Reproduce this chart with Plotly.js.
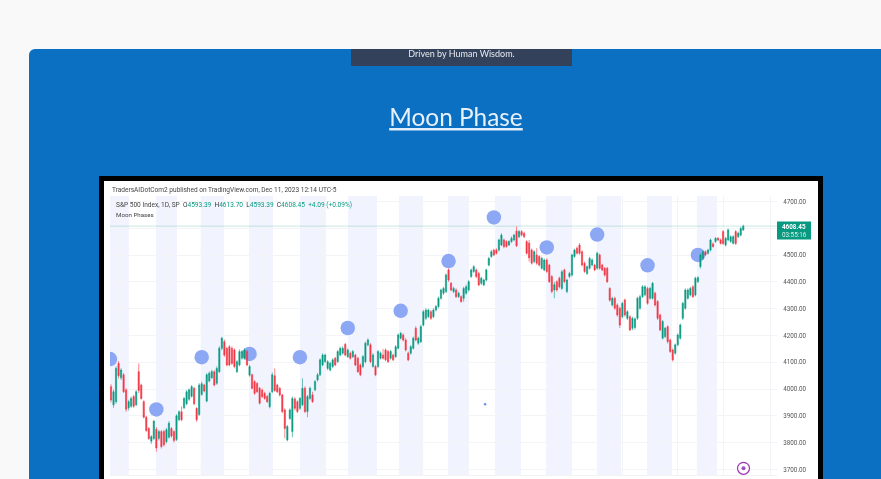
<!DOCTYPE html>
<html><head><meta charset="utf-8">
<script src="https://cdn.plot.ly/plotly-3.0.1.min.js"></script>
<style>
html,body{margin:0;padding:0;width:881px;height:479px;overflow:hidden;background:#f9f9f9}
#page{position:absolute;left:0;top:0;width:881px;height:479px;overflow:hidden;filter:blur(0.6px)}
#card{position:absolute;left:29px;top:49px;width:880px;height:460px;background:#0b6fc2;border-radius:6px 0 0 0}
#banner{position:absolute;left:351px;top:49px;width:221px;height:17px;background:#33415a;color:#e8ebf0;font:9px Lato,sans-serif;text-align:center;line-height:9px}
#frame{position:absolute;left:99px;top:176px;width:714px;height:320px;background:#fff;border:5px solid #000}
#chart{position:absolute;left:0;top:0;width:881px;height:479px}
</style></head>
<body><div id="page"><div id="card"></div><div id="banner">Driven by Human Wisdom.</div><div id="frame"></div><div id="chart"></div></div>
<script>
const opens=[4009,3941,3953,4096,4042,4053,3997,3930,3936,3972,
3941,4065,4015,3953,3895,3853,3805,3815,3850,3816,
3841,3841,3803,3820,3853,3841,3812,3885,3915,3930,
3945,3962,3973,4003,3928,3905,3980,4015,3955,4030,
4042,4065,4022,4065,4152,4177,4152,4158,4152,4146,
4065,4090,4115,4115,4140,4052,4053,4028,4021,4003,
3996,3984,3972,3934,3990,4050,4015,4003,3978,3922,
3810,3890,3841,3963,3953,3928,3941,4003,3916,3965,
3978,3997,4034,4053,4090,4102,4077,4071,4084,4115,
4102,4127,4134,4167,4121,4134,4121,4127,4115,4090,
4084,4102,4165,4165,4084,4084,4084,4115,4127,4146,
4140,4115,4127,4121,4152,4190,4202,4183,4134,4134,
4152,4227,4171,4177,4239,4264,4270,4289,4270,4295,
4308,4339,4358,4364,4445,4395,4364,4370,4345,4345,
4339,4358,4370,4420,4439,4445,4432,4395,4389,4407,
4463,4495,4519,4519,4519,4538,4557,4551,4538,4551,
4557,4590,4569,4588,4582,4551,4545,4519,4476,4501,
4495,4451,4445,4482,4463,4420,4370,4401,4414,4376,
4445,4364,4420,4426,4495,4526,4538,4513,4470,4432,
4451,4463,4463,4451,4501,4463,4451,4451,4376,4314,
4339,4314,4302,4270,4333,4264,4270,4227,4230,4264,
4302,4345,4352,4376,4339,4339,4358,4327,4277,4190,
4196,4233,4183,4146,4134,4165,4190,4264,4302,4339,
4351,4382,4351,4401,4457,4488,4513,4507,4519,4542,
4551,4563,4557,4588,4538,4557,4551,4544,4588,4569,
4575,4593.39];
const closes=[3959,3990,4077,4050,4071,3990,3925,3953,3965,3936,
3990,3995,3965,3895,3845,3815,3822,3880,3780,3841,
3785,3792,3848,3872,3825,3808,3900,3915,3885,3965,
3990,3997,4009,3945,3885,4015,4020,3993,4053,4059,
4065,4015,4077,4152,4190,4127,4090,4090,4096,4084,
4102,4140,4140,4146,4090,4084,4003,3984,3990,3947,
3972,3965,3953,3984,4053,3995,3990,3978,3916,3853,
3860,3922,3965,3928,3916,3965,4003,3916,3972,4003,
3953,4028,4053,4109,4127,4127,4102,4096,4109,4090,
4140,4152,4152,4127,4146,4115,4140,4090,4065,4053,
4121,4171,4183,4102,4127,4053,4140,4134,4115,4109,
4102,4140,4109,4158,4202,4208,4183,4146,4109,4158,
4190,4183,4190,4233,4289,4295,4295,4264,4295,4308,
4339,4370,4376,4426,4407,4370,4376,4345,4358,4327,
4376,4382,4401,4445,4457,4420,4389,4414,4407,4445,
4488,4513,4501,4507,4557,4575,4532,4532,4551,4563,
4575,4535,4588,4575,4569,4507,4490,4470,4513,4470,
4463,4488,4482,4439,4401,4364,4390,4370,4382,4438,
4401,4407,4432,4501,4519,4507,4507,4463,4439,4457,
4488,4482,4445,4507,4451,4445,4426,4401,4332,4339,
4302,4277,4239,4320,4277,4289,4221,4264,4262,4339,
4345,4382,4382,4320,4376,4395,4314,4264,4221,4252,
4227,4177,4140,4109,4165,4202,4239,4320,4370,4370,
4376,4345,4414,4416,4501,4513,4501,4519,4557,4532,
4563,4557,4544,4544,4563,4594,4569,4569,4544,4582,
4600,4608.45];
const highs=[4018,3998,4085,4105,4078,4060,4003,3960,3972,3978,
3996,4096,4020,3958,3900,3858,3828,3885,3858,3848,
3847,3848,3855,3880,3858,3846,3906,3921,3935,3970,
3996,4002,4015,4008,3932,4022,4028,4020,4060,4066,
4072,4070,4085,4160,4195,4185,4158,4165,4160,4152,
4108,4148,4146,4152,4146,4090,4058,4033,4026,4008,
4002,3990,3978,3990,4062,4077,4020,4008,3982,3928,
3866,3928,3972,3970,3958,3970,4040,4010,3978,4009,
3990,4034,4060,4115,4134,4132,4108,4102,4115,4120,
4146,4158,4160,4172,4152,4140,4146,4132,4120,4096,
4127,4177,4190,4172,4134,4090,4146,4140,4150,4152,
4146,4146,4132,4164,4208,4214,4208,4190,4140,4164,
4196,4235,4196,4240,4296,4302,4300,4295,4302,4314,
4345,4375,4382,4432,4451,4400,4382,4376,4364,4350,
4382,4390,4407,4450,4463,4450,4438,4420,4412,4450,
4494,4520,4524,4526,4562,4582,4562,4556,4556,4570,
4580,4607,4594,4594,4588,4556,4557,4525,4518,4526,
4500,4494,4488,4488,4468,4426,4401,4406,4420,4445,
4450,4412,4438,4506,4524,4532,4545,4518,4476,4462,
4494,4488,4468,4513,4506,4468,4456,4456,4380,4345,
4345,4320,4308,4326,4338,4295,4276,4270,4268,4345,
4352,4388,4388,4382,4382,4400,4364,4332,4282,4258,
4232,4238,4188,4152,4170,4208,4245,4326,4376,4376,
4382,4388,4420,4422,4506,4518,4518,4524,4562,4548,
4568,4568,4562,4594,4568,4600,4574,4575,4594,4588,
4606,4613.7];
const lows=[3950,3930,3945,4040,4034,3985,3915,3920,3930,3930,
3936,3985,3960,3890,3840,3810,3795,3810,3766,3808,
3778,3785,3797,3815,3818,3800,3806,3880,3880,3925,
3940,3956,3968,3940,3878,3900,3975,3988,3950,4025,
4038,4010,4016,4060,4145,4120,4085,4085,4090,4078,
4060,4085,4110,4110,4085,4046,3998,3978,3985,3942,
3966,3960,3948,3928,3985,3990,3985,3972,3910,3816,
3805,3885,3820,3920,3910,3922,3936,3910,3895,3960,
3948,3992,4028,4048,4085,4098,4070,4066,4078,4085,
4098,4122,4128,4122,4116,4110,4116,4085,4060,4048,
4078,4096,4160,4096,4080,4048,4078,4110,4110,4104,
4098,4110,4104,4116,4148,4185,4178,4140,4104,4128,
4148,4178,4165,4172,4234,4258,4265,4258,4265,4290,
4302,4334,4352,4358,4400,4365,4358,4340,4340,4322,
4326,4352,4364,4415,4434,4414,4384,4388,4384,4402,
4458,4490,4496,4502,4514,4534,4526,4528,4534,4546,
4552,4530,4564,4570,4564,4502,4476,4465,4470,4464,
4458,4446,4440,4434,4396,4358,4339,4364,4376,4370,
4395,4358,4414,4420,4490,4502,4502,4458,4434,4426,
4446,4458,4440,4446,4446,4440,4420,4396,4326,4308,
4296,4270,4228,4264,4270,4258,4216,4220,4222,4258,
4296,4340,4346,4315,4334,4334,4308,4258,4216,4185,
4190,4170,4135,4103,4128,4160,4185,4258,4296,4334,
4346,4340,4346,4396,4450,4482,4496,4502,4514,4528,
4546,4552,4540,4538,4532,4552,4546,4540,4538,4564,
4570,4593.39];
const barIndex=closes.map((_,i)=>i);

const moonBars=[-0.4,18,36,55,75,94,115,134,152,173,193,213,233];
const moonPrices=[4112,3924,4119,4131,4119,4228,4292,4478,4641,4529,4577,4462,4501];
const strayBar=[148.5];
const strayPrice=[3943];
const bandStart=[-0.4,17.9,35.6,54.8,75,94.1,114.3,133.8,152.4,172.7,192.9,212.8,232.6];
const bandEnd=[7.1,26.2,44.9,64.3,85.4,105.6,123.9,142.1,162.8,183,202.5,222.7,240.6];
const monthBars=[3,23,43,61,83,101,123,142,162,183,203,225,243,262];
const priceTicks=[3700,3800,3900,4000,4100,4200,4300,4400,4500,4600,4700];
const lastClose=4608.45;

const GREEN='#089981',RED='#F23645',MOON='#8ca8f5';
const L=110,R=777,T=196,B=475;
const fx=p=>(p-L)/(R-L), fy=p=>(B-p)/(B-T);
const xRange=[-0.4,264.4], yRange=[3679,4721];

const bandShapes=bandStart.map((s,i)=>({type:'rect',xref:'x',yref:'paper',x0:s,x1:bandEnd[i],y0:0,y1:1,layer:'below',line:{width:0},fillcolor:'#f1f4fe'}));
const shapes=bandShapes.concat([
 {type:'line',xref:'paper',yref:'y',x0:0,x1:1,y0:lastClose,y1:lastClose,line:{color:'rgba(8,153,129,0.22)',width:1}},
 {type:'rect',xref:'paper',yref:'paper',x0:fx(777),x1:fx(811),y0:fy(239.5),y1:fy(221.5),line:{width:0},fillcolor:GREEN},
 {type:'circle',xref:'paper',yref:'paper',x0:fx(737.5),x1:fx(749.5),y0:fy(474.3),y1:fy(462.3),line:{color:'#9c36b5',width:1.2},fillcolor:'#fff'},
 {type:'circle',xref:'paper',yref:'paper',x0:fx(741.5),x1:fx(745.5),y0:fy(470.3),y1:fy(466.3),line:{width:0},fillcolor:'#a34cc0'}
]);
const note=(px,py,text,size,color,extra)=>Object.assign({xref:'paper',yref:'paper',x:fx(px),y:fy(py),text:text,showarrow:false,xanchor:'left',yanchor:'middle',borderpad:0,font:{family:'Roboto, sans-serif',size:size,color:color}},extra||{});
const sp=(c,t)=>`<span style="color:${c}">${t}</span>`;
const annotations=[
 note(111,190,'TradersAIDotCom2 published on TradingView.com, Dec 11, 2023 12:14 UTC-5',6.55,'#444'),
 note(115,205,'S&P 500 Index, 1D, SP  '+sp('#333','O')+sp(GREEN,'4593.39')+sp('#333','  H')+sp(GREEN,'4613.70')+sp('#333','  L')+sp(GREEN,'4593.39')+sp('#333','  C')+sp(GREEN,'4608.45  +4.09 (+0.09%)'),6.55,'#444'),
 note(115,214.5,'Moon Phases',6.2,'#444'),
 note(794,226.5,'<b>4608.45</b>',6.3,'#fff',{xanchor:'center'}),
 note(794,234.5,'03:55:16',6.3,'#d8f0ea',{xanchor:'center'})
];

const traces=[
 {type:'scatter',mode:'markers',x:moonBars,y:moonPrices,xaxis:'x',yaxis:'y',marker:{size:14.5,color:MOON},hoverinfo:'skip',showlegend:false},
 {type:'scatter',mode:'markers',x:strayBar,y:strayPrice,xaxis:'x',yaxis:'y',marker:{size:2.5,color:'#6f8ff0'},hoverinfo:'skip',showlegend:false},
 {type:'candlestick',x:barIndex,open:opens,high:highs,low:lows,close:closes,xaxis:'x2',yaxis:'y2',whiskerwidth:0,
  increasing:{line:{color:GREEN,width:0.6},fillcolor:GREEN},decreasing:{line:{color:RED,width:0.6},fillcolor:RED},showlegend:false,hoverinfo:'skip'}
];
const layout={
 width:881,height:479,autosize:false,showlegend:false,
 margin:{l:L,r:881-R,t:T,b:479-B,pad:0},
 paper_bgcolor:'rgba(0,0,0,0)',plot_bgcolor:'rgba(0,0,0,0)',
 title:{text:'<u>Moon Phase</u>',x:457/881,xref:'paper',xanchor:'center',y:1-117.5/479,yref:'container',yanchor:'middle',font:{family:'Lato, sans-serif',size:24.4,color:'#e6f1fb'}},
 xaxis:{type:'linear',range:xRange,tickmode:'array',tickvals:monthBars,showticklabels:false,showgrid:true,gridcolor:'#f3f4f7',gridwidth:1,zeroline:false,ticks:'',showline:true,linecolor:'#f3f3f3',fixedrange:true},
 yaxis:{type:'linear',range:yRange,side:'right',tickmode:'array',tickvals:priceTicks,ticktext:priceTicks.map(v=>v.toFixed(2)),showgrid:true,gridcolor:'#f3f4f7',gridwidth:1,zeroline:false,ticks:'outside',ticklen:4,tickcolor:'rgba(0,0,0,0)',tickfont:{family:'Roboto, sans-serif',size:6.3,color:'#555'},fixedrange:true},
 xaxis2:{type:'linear',overlaying:'x',range:xRange,visible:false,anchor:'y2',rangeslider:{visible:false},fixedrange:true},
 yaxis2:{type:'linear',overlaying:'y',range:yRange,visible:false,anchor:'x2',fixedrange:true},
 shapes:shapes,annotations:annotations
};
Plotly.newPlot('chart',traces,layout,{displayModeBar:false,staticPlot:true});
</script></body></html>
